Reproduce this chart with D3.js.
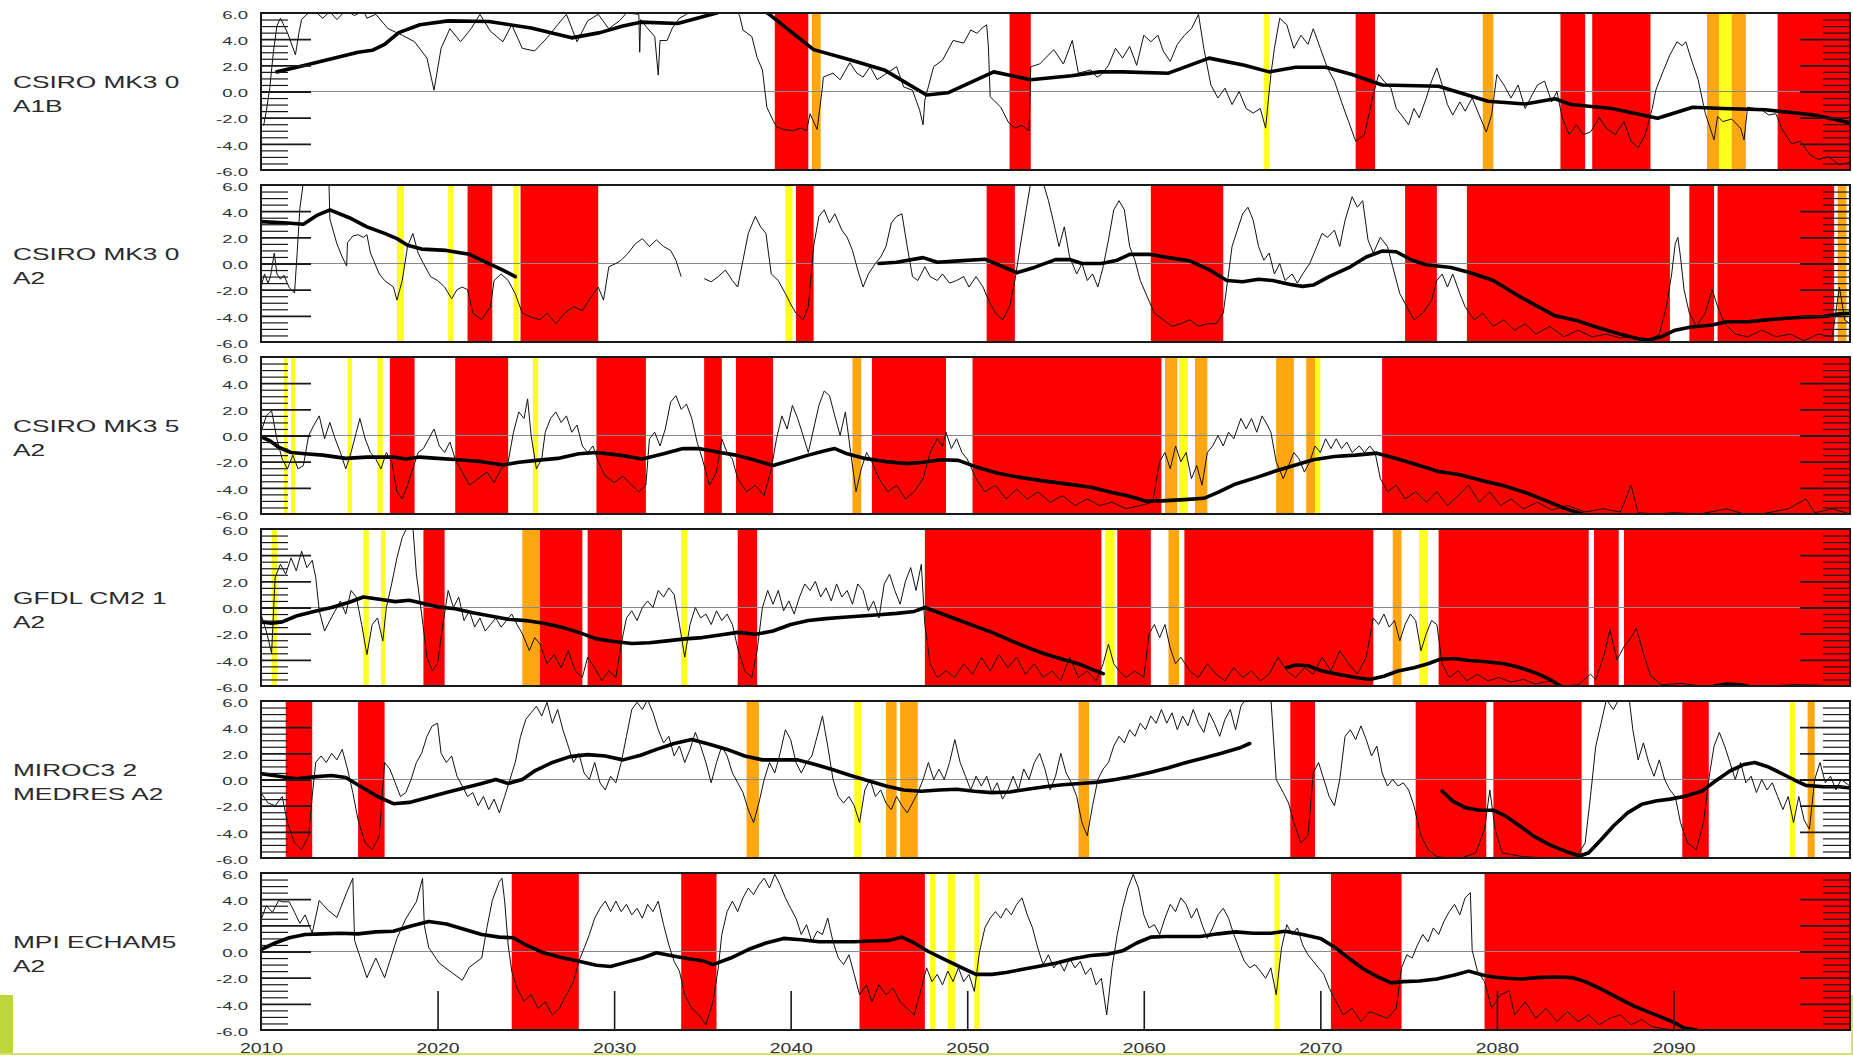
<!DOCTYPE html>
<html><head><meta charset="utf-8">
<script src="https://cdn.jsdelivr.net/npm/d3@7"></script>
<style>html,body{margin:0;padding:0;background:#fff;} svg{display:block;}</style>
</head><body>
<svg id="chart" width="1853" height="1058"></svg>
<script>
// ---------------- DATA ----------------
const modelLabels = [["CSIRO MK3 0","A1B"],["CSIRO MK3 0","A2"],["CSIRO MK3 5","A2"],["GFDL CM2 1","A2"],["MIROC3 2","MEDRES A2"],["MPI ECHAM5","A2"]];
const yTickValues = [6,4,2,0,-2,-4,-6];
const yTickLabels = ["6.0","4.0","2.0","0.0","-2.0","-4.0","-6.0"];
const xTickYears = [2010,2020,2030,2040,2050,2060,2070,2080,2090];
const xTickLabels = ["2010","2020","2030","2040","2050","2060","2070","2080","2090"];
const bandColors = {R:"#ff0000", O:"#ffa612", Y:"#ffff1e"};

// shaded drought episodes: [start, end, class]
const bands1 = [[2039.1,2041.0,"R"],[2041.2,2041.7,"O"],[2052.4,2053.6,"R"],[2066.8,2067.1,"Y"],[2072.0,2073.1,"R"],[2079.2,2079.8,"O"],[2083.6,2085.0,"R"],[2085.4,2088.7,"R"],[2091.9,2092.6,"O"],[2092.6,2093.3,"Y"],[2093.3,2094.1,"O"],[2095.9,2100,"R"]];
const bands2 = [[2017.7,2018.1,"Y"],[2020.6,2020.9,"Y"],[2021.7,2023.1,"R"],[2024.3,2024.6,"Y"],[2024.7,2029.1,"R"],[2039.7,2040.1,"Y"],[2040.3,2041.3,"R"],[2051.1,2052.7,"R"],[2060.4,2064.5,"R"],[2074.8,2076.6,"R"],[2078.3,2089.8,"R"],[2090.9,2092.3,"R"],[2092.5,2099.1,"R"],[2099.3,2099.8,"O"]];
const bands3 = [[2011.3,2011.5,"Y"],[2011.7,2011.95,"Y"],[2014.9,2015.15,"Y"],[2016.6,2016.9,"Y"],[2017.3,2018.7,"R"],[2021.0,2024.0,"R"],[2025.4,2025.7,"Y"],[2029.0,2031.8,"R"],[2035.1,2036.1,"R"],[2036.9,2039.0,"R"],[2043.5,2044.0,"O"],[2044.6,2048.8,"R"],[2050.3,2061.0,"R"],[2061.2,2061.9,"O"],[2062.0,2062.5,"Y"],[2062.9,2063.6,"O"],[2067.5,2068.5,"O"],[2069.2,2069.7,"O"],[2069.7,2070.0,"Y"],[2073.5,2100,"R"]];
const bands4 = [[2010.6,2010.9,"Y"],[2015.8,2016.1,"Y"],[2016.8,2017.05,"Y"],[2019.2,2020.4,"R"],[2024.8,2025.8,"O"],[2025.8,2028.2,"R"],[2028.5,2030.45,"R"],[2033.8,2034.15,"Y"],[2037.0,2038.1,"R"],[2047.6,2057.6,"R"],[2057.8,2058.35,"Y"],[2058.5,2060.4,"R"],[2061.4,2062.0,"O"],[2062.3,2073.0,"R"],[2074.1,2074.6,"O"],[2075.6,2076.1,"Y"],[2076.7,2085.2,"R"],[2085.5,2086.9,"R"],[2087.2,2100,"R"]];
const bands5 = [[2011.4,2012.9,"R"],[2015.5,2017.0,"R"],[2037.5,2038.2,"O"],[2043.6,2044.0,"Y"],[2045.4,2046.0,"O"],[2046.2,2047.2,"O"],[2056.3,2056.9,"O"],[2068.3,2069.7,"R"],[2075.4,2079.4,"R"],[2079.8,2084.8,"R"],[2090.5,2092.0,"R"],[2096.6,2096.9,"Y"],[2097.6,2098.0,"O"]];
const bands6 = [[2024.2,2028.0,"R"],[2033.8,2035.8,"R"],[2043.9,2047.6,"R"],[2047.9,2048.2,"Y"],[2048.9,2049.3,"Y"],[2050.4,2050.7,"Y"],[2067.4,2067.7,"Y"],[2070.6,2074.6,"R"],[2079.3,2100,"R"]];

// thin index series: [year, value]; null = gap
const thin1 = [[2010.15,-2.6],[2010.3,-1.5],[2010.5,0.3],[2010.7,3.0],[2010.9,5.0],[2011.1,5.6],[2011.5,4.5],[2011.95,2.8],[2012.15,4.5],[2012.3,5.5],[2012.6,5.9],[2013.0,6.2],[2013.5,5.6],[2013.9,6.1],[2014.3,5.5],[2014.8,6.2],[2015.3,5.8],[2015.8,6.2],[2016.0,5.6],[2016.5,5.9],[2017.2,4.8],[2018.0,4.3],[2018.7,3.8],[2019.4,2.55],[2019.8,0.1],[2020.2,3.3],[2020.7,4.8],[2021.3,3.8],[2021.9,4.8],[2022.4,5.9],[2023.0,4.6],[2023.7,3.8],[2024.2,5.1],[2024.8,3.3],[2025.5,3.1],[2026.2,4.1],[2026.8,5.1],[2027.3,5.9],[2027.9,3.8],[2028.5,5.4],[2029.1,5.9],[2029.7,4.8],[2030.3,5.4],[2030.7,6.0],[2031.4,5.9],[2031.45,3.0],[2031.5,5.5],[2031.85,4.9],[2032.3,4.2],[2032.5,1.25],[2032.6,3.9],[2033.0,3.9],[2033.3,4.85],[2033.7,5.6],[2034.1,5.9],[2034.5,6.2],[2036.8,6.2],[2037.1,5.85],[2037.3,4.7],[2037.8,4.2],[2038.1,2.6],[2038.4,1.65],[2038.65,-1.2],[2039.0,-2.2],[2039.2,-2.7],[2039.6,-2.9],[2040.1,-3.0],[2040.6,-2.8],[2040.9,-3.0],[2041.1,-1.7],[2041.5,-2.9],[2041.8,0.35],[2041.85,1.1],[2042.4,1.4],[2042.8,0.9],[2043.35,2.2],[2043.75,1.4],[2044.1,1.1],[2044.5,1.9],[2044.9,0.9],[2045.45,1.4],[2046.0,1.9],[2046.4,0.35],[2046.9,0.1],[2047.3,-1.4],[2047.5,-2.55],[2047.6,-0.65],[2048.1,1.9],[2048.6,2.4],[2049.2,3.9],[2049.8,3.7],[2050.2,4.7],[2050.55,4.45],[2050.85,4.85],[2051.1,5.1],[2051.2,3.4],[2051.3,-0.4],[2051.9,-1.2],[2052.35,-2.4],[2052.7,-2.8],[2053.1,-2.6],[2053.5,-3.0],[2053.6,1.9],[2054.1,2.1],[2054.9,3.2],[2055.45,2.1],[2055.95,3.9],[2056.3,1.4],[2057.0,1.65],[2057.35,1.1],[2057.6,1.3],[2058.0,2.0],[2058.4,3.3],[2058.8,2.55],[2059.2,3.45],[2059.6,2.0],[2060.0,4.3],[2060.4,3.8],[2060.8,4.3],[2061.1,3.1],[2061.5,2.3],[2061.9,3.6],[2062.3,4.3],[2062.7,4.8],[2063.1,5.9],[2063.4,3.3],[2063.8,0.5],[2064.2,-0.5],[2064.6,0.25],[2065.0,-1.0],[2065.4,0],[2065.8,-1.3],[2066.2,-1.65],[2066.6,-1.3],[2066.9,-2.8],[2067.2,1.3],[2067.4,3.3],[2067.7,5.6],[2068.1,5.1],[2068.5,3.3],[2068.9,4.3],[2069.3,3.6],[2069.6,4.8],[2070.0,3.3],[2070.4,1.8],[2070.8,0.8],[2071.2,-0.8],[2071.6,-2.3],[2072.0,-3.8],[2072.5,-3.3],[2073.0,-0.25],[2073.3,1.3],[2073.6,0.8],[2074.0,0.25],[2074.3,-1.3],[2074.6,-1.8],[2075.0,-2.55],[2075.3,-1.3],[2075.6,-2.0],[2076.0,-0.5],[2076.3,0.8],[2076.6,1.8],[2076.9,0.5],[2077.2,-1.0],[2077.5,-1.8],[2077.9,-0.8],[2078.2,-1.5],[2078.6,-0.5],[2079.0,-1.8],[2079.4,-3.1],[2079.7,-1.8],[2080.0,1.3],[2080.4,0.5],[2080.8,-0.5],[2081.2,0.5],[2081.6,-1.3],[2082.0,-0.25],[2082.3,0.5],[2082.7,0.8],[2083.1,-0.8],[2083.4,0],[2083.7,-2.0],[2084.1,-3.3],[2084.5,-2.55],[2084.9,-3.3],[2085.3,-3.1],[2085.8,-2.0],[2086.2,-2.8],[2086.7,-3.3],[2087.2,-2.3],[2087.6,-3.8],[2088.0,-4.3],[2088.4,-3.3],[2088.8,-1.3],[2089.0,0.1],[2089.4,1.5],[2089.8,2.8],[2090.2,3.8],[2090.5,3.5],[2090.7,3.8],[2091.0,2.5],[2091.4,0.9],[2091.8,-1.65],[2092.3,-3.7],[2092.5,-1.9],[2092.8,-2.3],[2093.3,-2.1],[2093.8,-2.8],[2094.0,-3.7],[2094.2,-1.2],[2094.6,-1.3],[2095.0,-1.4],[2095.4,-1.8],[2095.8,-1.7],[2096.2,-3.0],[2096.7,-4.0],[2097.2,-3.8],[2097.7,-4.8],[2098.2,-5.2],[2098.8,-5.0],[2099.4,-5.6],[2100,-5.4]];
const thin2 = [[2010.0,-1.8],[2010.2,-0.8],[2010.4,-1.5],[2010.55,-0.9],[2010.75,0.8],[2010.9,-0.8],[2011.1,-1.2],[2011.3,-0.9],[2011.6,-1.85],[2011.9,-2.25],[2012.05,0.85],[2012.2,4.2],[2012.4,6.2],[2013.85,6.2],[2013.9,3.4],[2014.3,1.5],[2014.6,0.5],[2014.85,-0.2],[2014.9,1.6],[2015.2,2.1],[2015.5,2.2],[2015.8,2.0],[2016.0,2.2],[2016.2,0.8],[2016.7,-0.8],[2017.0,-1.3],[2017.5,-1.8],[2017.7,-2.8],[2018.0,-1.3],[2018.3,1.3],[2018.6,2.3],[2018.9,0.8],[2019.2,0],[2019.6,-1.0],[2020.0,-1.3],[2020.4,-1.8],[2020.8,-2.7],[2021.1,-2.0],[2021.4,-1.8],[2021.7,-2.0],[2022.0,-3.8],[2022.5,-4.3],[2023.0,-3.3],[2023.2,-1.3],[2023.6,-0.8],[2024.0,-1.3],[2024.4,-2.3],[2024.8,-3.8],[2025.3,-4.1],[2025.8,-4.3],[2026.2,-3.8],[2026.7,-4.6],[2027.2,-3.8],[2027.7,-3.3],[2028.2,-3.6],[2028.7,-2.55],[2029.1,-1.8],[2029.4,-2.8],[2029.7,-0.25],[2030.1,0],[2030.4,0.25],[2030.8,0.8],[2031.2,1.5],[2031.6,1.9],[2032.0,1.3],[2032.4,1.8],[2032.8,1.3],[2033.2,1.0],[2033.5,0.25],[2033.8,-1.0],null,[2035.1,-1.15],[2035.5,-1.4],[2035.9,-1.0],[2036.3,-0.5],[2036.7,-1.3],[2037.0,-1.8],[2037.3,0.25],[2037.6,2.3],[2038.0,3.6],[2038.3,2.8],[2038.6,2.3],[2038.9,-0.8],[2039.3,-1.3],[2039.7,-2.3],[2040.0,-3.1],[2040.3,-3.8],[2040.7,-4.3],[2041.0,-3.3],[2041.3,1.3],[2041.6,3.6],[2041.9,4.1],[2042.2,3.1],[2042.5,3.8],[2042.9,2.55],[2043.2,2.0],[2043.5,1.0],[2043.8,-0.5],[2044.1,-1.8],[2044.4,-0.8],[2044.8,0],[2045.1,0.5],[2045.4,1.3],[2045.7,3.1],[2046.0,3.6],[2046.3,3.8],[2046.6,1.3],[2046.9,-1.0],[2047.2,-1.3],[2047.6,-0.25],[2047.9,-1.0],[2048.3,-1.3],[2048.6,-0.8],[2049.0,-1.5],[2049.4,-1.3],[2049.8,-1.0],[2050.1,-1.8],[2050.5,-1.0],[2050.9,-1.8],[2051.2,-2.8],[2051.6,-3.8],[2052.0,-4.3],[2052.4,-3.3],[2052.7,-1.3],[2053.0,1.3],[2053.3,3.8],[2053.6,6.2],[2054.3,6.2],[2054.6,4.8],[2054.9,3.1],[2055.2,1.3],[2055.5,2.8],[2055.8,0.5],[2056.2,-0.8],[2056.5,0],[2056.8,-1.3],[2057.1,-0.8],[2057.4,-1.8],[2057.7,-0.25],[2058.0,1.8],[2058.3,4.1],[2058.6,4.8],[2058.9,4.1],[2059.2,1.3],[2059.5,0.25],[2059.8,-1.3],[2060.2,-2.55],[2060.6,-3.8],[2061.1,-4.3],[2061.6,-4.8],[2062.1,-4.6],[2062.6,-4.3],[2063.1,-4.8],[2063.6,-4.6],[2064.1,-4.6],[2064.5,-3.8],[2064.8,-0.8],[2065.0,1.3],[2065.3,2.55],[2065.6,3.8],[2065.9,4.3],[2066.2,3.3],[2066.5,1.3],[2066.8,0.25],[2067.1,0.8],[2067.4,-0.8],[2067.7,0],[2068.0,-1.3],[2068.4,-0.8],[2068.7,-1.5],[2069.0,-0.8],[2069.4,0],[2069.8,1.3],[2070.1,2.3],[2070.4,2.0],[2070.8,2.55],[2071.1,1.3],[2071.4,3.3],[2071.8,5.1],[2072.1,4.3],[2072.4,4.8],[2072.7,1.8],[2073.0,0.8],[2073.4,2.0],[2073.8,1.3],[2074.1,-0.25],[2074.5,-2.3],[2074.9,-3.3],[2075.3,-4.3],[2075.8,-3.8],[2076.3,-2.8],[2076.6,-1.3],[2076.9,-0.8],[2077.2,-1.8],[2077.5,-0.8],[2077.9,-2.3],[2078.2,-3.3],[2078.7,-4.3],[2079.2,-3.8],[2079.8,-4.8],[2080.4,-4.3],[2081.0,-5.1],[2081.6,-4.6],[2082.2,-5.4],[2083.0,-4.8],[2083.8,-5.6],[2084.6,-5.1],[2085.4,-5.6],[2086.2,-5.4],[2087.0,-5.7],[2087.8,-5.6],[2088.6,-5.9],[2089.2,-5.4],[2089.6,-3.3],[2089.9,-0.8],[2090.1,1.5],[2090.25,2.0],[2090.4,0.5],[2090.6,-2.0],[2090.9,-3.8],[2091.3,-4.8],[2091.8,-3.8],[2092.2,-2.0],[2092.5,-3.3],[2092.9,-4.6],[2093.5,-5.4],[2094.2,-5.6],[2095.0,-5.1],[2095.8,-5.6],[2096.6,-5.4],[2097.4,-5.9],[2098.2,-5.4],[2099.0,-5.6],[2099.4,-1.8],[2099.7,-4.3],[2100,-4.6]];
const thin3 = [[2010.0,0.25],[2010.3,1.5],[2010.6,1.9],[2010.9,-0.25],[2011.2,-1.8],[2011.5,-2.55],[2011.8,-1.5],[2012.1,-2.55],[2012.4,-2.3],[2012.7,0],[2013.0,0.8],[2013.3,1.5],[2013.6,-0.25],[2013.9,1.0],[2014.2,-0.25],[2014.5,-1.3],[2014.8,-2.55],[2015.1,-1.3],[2015.4,0.25],[2015.6,1.3],[2015.9,-0.25],[2016.2,-1.3],[2016.5,-1.8],[2016.8,-2.55],[2017.1,-1.3],[2017.4,-2.0],[2017.7,-4.3],[2018.0,-4.85],[2018.3,-3.8],[2018.6,-2.55],[2018.9,-1.3],[2019.2,-1.0],[2019.5,-0.25],[2019.8,0.5],[2020.1,-0.8],[2020.4,-1.3],[2020.7,-0.5],[2021.0,-1.8],[2021.4,-2.8],[2021.8,-3.8],[2022.3,-3.3],[2022.8,-2.8],[2023.2,-3.6],[2023.6,-2.55],[2024.0,-2.0],[2024.3,0.25],[2024.6,1.8],[2024.9,1.3],[2025.1,2.8],[2025.3,0],[2025.6,-2.55],[2025.9,-1.8],[2026.1,0.25],[2026.4,1.3],[2026.7,1.8],[2027.0,1.0],[2027.3,1.5],[2027.6,0.25],[2027.9,0.8],[2028.2,-0.8],[2028.5,-1.3],[2028.8,-0.8],[2029.1,-2.0],[2029.5,-3.1],[2030.0,-3.6],[2030.5,-3.1],[2031.0,-3.8],[2031.4,-4.3],[2031.8,-3.8],[2032.0,-0.25],[2032.3,0.25],[2032.6,-0.8],[2032.9,0.5],[2033.2,2.55],[2033.5,3.05],[2033.8,2.0],[2034.1,2.4],[2034.4,1.3],[2034.7,-0.5],[2035.0,-1.8],[2035.4,-3.8],[2035.8,-2.8],[2036.1,-0.25],[2036.4,-1.3],[2036.7,-1.8],[2037.0,-3.3],[2037.5,-4.3],[2038.0,-3.8],[2038.5,-4.6],[2038.9,-2.55],[2039.2,-0.25],[2039.5,1.5],[2039.8,0.5],[2040.1,2.3],[2040.4,1.3],[2040.7,0],[2041.0,-1.3],[2041.3,0.5],[2041.6,2.3],[2041.9,3.4],[2042.2,3.05],[2042.5,1.5],[2042.8,0],[2043.1,1.8],[2043.4,-1.3],[2043.7,-4.3],[2044.0,-2.55],[2044.3,-1.3],[2044.6,-2.0],[2045.0,-3.3],[2045.5,-4.3],[2046.0,-3.8],[2046.5,-4.85],[2047.0,-4.3],[2047.5,-3.3],[2047.9,-1.3],[2048.3,-0.25],[2048.6,-0.8],[2048.8,0.25],[2049.1,-1.0],[2049.4,-0.25],[2049.7,-1.3],[2050.0,-1.8],[2050.5,-3.3],[2051.0,-4.3],[2051.6,-3.8],[2052.2,-4.85],[2052.8,-4.1],[2053.4,-4.85],[2054.0,-4.3],[2054.7,-5.1],[2055.4,-4.6],[2056.1,-5.35],[2056.8,-4.85],[2057.5,-5.35],[2058.2,-5.1],[2059.0,-5.6],[2059.8,-5.35],[2060.5,-5.1],[2060.9,-2.0],[2061.2,-1.3],[2061.5,-2.55],[2061.8,-0.8],[2062.1,-2.0],[2062.4,-1.3],[2062.7,-3.3],[2063.0,-2.3],[2063.3,-3.8],[2063.6,-1.3],[2063.9,-0.8],[2064.2,0],[2064.5,-0.8],[2064.8,0.25],[2065.1,-0.25],[2065.5,1.3],[2065.8,0.5],[2066.1,1.3],[2066.4,0.25],[2066.7,1.5],[2067.0,0.8],[2067.2,0.25],[2067.5,-2.0],[2067.9,-3.3],[2068.2,-2.3],[2068.5,-1.3],[2068.8,-1.8],[2069.1,-2.8],[2069.4,-2.0],[2069.7,-0.8],[2070.0,-1.3],[2070.3,-0.25],[2070.6,-1.0],[2070.9,-0.25],[2071.2,-1.0],[2071.5,-0.5],[2071.8,-1.3],[2072.2,-0.8],[2072.5,-1.3],[2072.8,-0.8],[2073.1,-1.3],[2073.4,-3.3],[2073.8,-4.3],[2074.3,-3.8],[2074.8,-4.85],[2075.4,-4.3],[2076.0,-5.1],[2076.6,-4.3],[2077.2,-5.35],[2077.8,-4.6],[2078.4,-3.8],[2079.0,-5.1],[2079.6,-4.3],[2080.2,-5.35],[2080.8,-4.85],[2081.5,-5.6],[2082.3,-5.1],[2083.1,-5.7],[2084.0,-5.35],[2085.0,-5.85],[2086.0,-5.6],[2087.0,-5.85],[2087.6,-3.8],[2088.0,-5.9],[2089.0,-6.0],[2090.0,-5.9],[2091.5,-6.0],[2093.0,-5.6],[2094.0,-6.0],[2095.0,-6.0],[2096.5,-5.6],[2097.5,-4.85],[2098.0,-5.9],[2099.0,-5.6],[2100,-6.0]];
const thin4 = [[2010.0,-0.5],[2010.3,-1.8],[2010.6,-3.5],[2010.8,2.3],[2011.1,3.3],[2011.4,2.55],[2011.7,3.8],[2012.0,2.8],[2012.3,4.3],[2012.6,3.05],[2012.9,3.6],[2013.1,2.3],[2013.3,-0.25],[2013.6,-1.8],[2013.9,-1.0],[2014.2,-0.25],[2014.5,0.5],[2014.8,-0.5],[2015.1,1.3],[2015.4,0.8],[2015.7,-1.3],[2016.0,-3.6],[2016.3,-1.3],[2016.6,-0.8],[2016.9,-2.55],[2017.1,0],[2017.4,1.8],[2017.7,3.8],[2018.0,5.35],[2018.3,6.2],[2018.6,6.2],[2018.8,2.55],[2019.1,-0.5],[2019.4,-3.8],[2019.7,-4.85],[2020.0,-4.3],[2020.3,-1.3],[2020.6,1.3],[2020.9,0],[2021.2,0.8],[2021.5,-1.0],[2021.8,-0.25],[2022.1,-1.5],[2022.4,-0.8],[2022.7,-1.8],[2023.0,-1.3],[2023.3,-0.8],[2023.6,-1.5],[2023.9,-1.0],[2024.2,-0.5],[2024.5,-1.3],[2024.8,-2.0],[2025.2,-3.3],[2025.5,-2.3],[2025.8,-2.8],[2026.2,-4.3],[2026.6,-3.6],[2027.0,-4.6],[2027.4,-3.3],[2027.8,-4.85],[2028.2,-5.35],[2028.5,-3.8],[2028.9,-4.6],[2029.3,-5.6],[2029.7,-4.85],[2030.1,-5.35],[2030.4,-2.8],[2030.7,-0.8],[2031.0,-0.25],[2031.3,-1.0],[2031.6,0],[2031.9,0.5],[2032.2,0],[2032.5,1.3],[2032.8,0.8],[2033.1,1.5],[2033.4,1.0],[2033.7,-1.3],[2034.0,-3.8],[2034.3,-1.3],[2034.6,0],[2034.9,-0.8],[2035.2,-0.5],[2035.5,-1.3],[2035.8,-0.25],[2036.1,-1.0],[2036.4,-0.5],[2036.7,-1.3],[2037.0,-3.1],[2037.4,-4.85],[2037.8,-5.35],[2038.1,-3.3],[2038.4,0],[2038.7,1.3],[2039.0,0.25],[2039.3,1.3],[2039.6,-0.25],[2039.9,0.5],[2040.2,-0.5],[2040.5,0.8],[2040.8,1.8],[2041.1,1.3],[2041.4,2.0],[2041.7,0.8],[2042.0,1.5],[2042.3,0.5],[2042.6,1.8],[2042.9,0.8],[2043.2,1.3],[2043.5,0.25],[2043.8,1.8],[2044.1,1.3],[2044.4,-0.25],[2044.7,0.5],[2045.0,-0.8],[2045.3,1.8],[2045.6,2.55],[2045.9,1.3],[2046.2,0.25],[2046.5,2.0],[2046.8,3.05],[2047.1,1.3],[2047.4,3.3],[2047.6,-1.3],[2047.9,-4.3],[2048.3,-5.35],[2048.8,-4.85],[2049.3,-5.35],[2049.8,-4.3],[2050.3,-5.1],[2050.8,-3.8],[2051.3,-4.85],[2051.8,-3.6],[2052.3,-4.6],[2052.8,-3.8],[2053.3,-5.1],[2053.8,-4.3],[2054.3,-5.35],[2054.8,-4.85],[2055.3,-5.6],[2055.8,-3.8],[2056.3,-5.35],[2056.8,-4.85],[2057.3,-5.6],[2057.7,-4.3],[2058.0,-2.8],[2058.3,-4.3],[2058.6,-4.85],[2059.0,-5.35],[2059.5,-4.85],[2060.0,-5.35],[2060.3,-2.0],[2060.6,-1.3],[2060.9,-2.3],[2061.2,-1.3],[2061.5,-3.1],[2061.8,-4.3],[2062.1,-3.8],[2062.6,-4.85],[2063.1,-5.35],[2063.6,-4.3],[2064.1,-5.1],[2064.6,-5.6],[2065.1,-4.6],[2065.6,-5.35],[2066.1,-4.85],[2066.6,-5.6],[2067.1,-5.1],[2067.6,-3.8],[2068.1,-4.85],[2068.6,-5.35],[2069.1,-4.6],[2069.6,-5.1],[2070.1,-3.8],[2070.6,-4.85],[2071.1,-3.3],[2071.6,-4.3],[2072.1,-5.1],[2072.6,-3.8],[2073.0,-0.8],[2073.3,-1.3],[2073.6,-0.5],[2073.9,-1.5],[2074.2,-1.0],[2074.5,-2.55],[2074.8,-1.3],[2075.1,-0.5],[2075.4,-1.0],[2075.7,-3.3],[2076.0,-2.0],[2076.3,-1.0],[2076.6,-1.3],[2076.9,-4.3],[2077.3,-5.35],[2077.8,-4.85],[2078.3,-5.6],[2078.9,-5.1],[2079.5,-5.6],[2080.1,-5.35],[2080.8,-5.7],[2081.5,-5.5],[2082.2,-5.85],[2083.0,-5.6],[2083.8,-6.0],[2084.6,-5.9],[2085.3,-5.1],[2085.6,-5.5],[2086.1,-3.5],[2086.4,-1.7],[2086.8,-4.0],[2087.2,-3.0],[2087.6,-2.3],[2087.9,-1.6],[2088.3,-3.5],[2088.7,-5.2],[2089.3,-5.9],[2090.5,-5.8],[2091.5,-6.0],[2093.0,-5.9],[2095.0,-6.0],[2097.0,-5.9],[2100,-6.0]];
const thin5 = [[2010.0,-1.0],[2010.4,-1.8],[2010.8,-2.0],[2011.2,-1.3],[2011.5,-3.3],[2011.9,-4.85],[2012.3,-5.35],[2012.7,-4.3],[2012.9,-1.3],[2013.1,1.3],[2013.4,1.8],[2013.7,1.3],[2014.0,2.0],[2014.3,1.5],[2014.6,2.3],[2014.9,0.8],[2015.2,-1.0],[2015.5,-3.1],[2015.9,-4.85],[2016.3,-5.35],[2016.7,-4.3],[2017.0,1.3],[2017.3,0.8],[2017.6,-0.25],[2017.9,-1.3],[2018.2,-1.0],[2018.5,0],[2018.8,1.3],[2019.1,2.0],[2019.4,3.3],[2019.7,4.1],[2020.0,4.3],[2020.2,2.0],[2020.5,1.3],[2020.8,1.8],[2021.1,0.25],[2021.4,-0.5],[2021.7,-1.3],[2022.0,-1.0],[2022.3,-2.0],[2022.6,-1.3],[2022.9,-2.3],[2023.2,-1.5],[2023.5,-2.55],[2023.8,-1.3],[2024.1,0],[2024.4,1.3],[2024.7,3.3],[2025.0,4.6],[2025.3,5.1],[2025.6,5.6],[2025.9,4.85],[2026.2,5.9],[2026.5,4.3],[2026.8,5.35],[2027.1,3.8],[2027.4,2.55],[2027.7,1.3],[2028.0,2.0],[2028.3,0.5],[2028.6,0],[2028.9,1.3],[2029.2,-0.25],[2029.5,-0.8],[2029.8,0.25],[2030.1,-0.25],[2030.4,1.3],[2030.7,3.3],[2031.0,5.35],[2031.3,5.9],[2031.6,5.35],[2031.9,6.1],[2032.2,5.1],[2032.5,3.8],[2032.8,2.8],[2033.1,3.3],[2033.4,1.8],[2033.7,2.55],[2034.0,1.3],[2034.3,2.3],[2034.6,3.6],[2034.9,2.55],[2035.2,1.3],[2035.5,-0.25],[2035.8,1.3],[2036.1,2.55],[2036.4,1.8],[2036.7,0.5],[2037.0,-0.25],[2037.3,-1.0],[2037.6,-2.3],[2037.9,-3.3],[2038.2,-1.8],[2038.5,0],[2038.8,1.3],[2039.1,0.5],[2039.4,2.0],[2039.7,3.8],[2040.0,3.05],[2040.3,1.3],[2040.6,0.5],[2040.9,1.3],[2041.2,1.8],[2041.5,3.3],[2041.8,4.85],[2042.1,2.55],[2042.4,0],[2042.7,-1.3],[2043.0,-1.8],[2043.3,-1.3],[2043.6,-2.0],[2043.9,-3.3],[2044.2,-0.8],[2044.5,0],[2044.8,-1.3],[2045.1,-0.8],[2045.4,-1.8],[2045.7,-2.3],[2046.0,-1.3],[2046.3,-2.0],[2046.6,-2.55],[2046.9,-1.8],[2047.2,-1.0],[2047.5,0],[2047.8,1.3],[2048.1,0],[2048.4,0.8],[2048.7,0],[2049.0,1.3],[2049.3,3.05],[2049.6,1.3],[2049.9,0.25],[2050.2,-0.8],[2050.5,0.25],[2050.8,-0.5],[2051.1,0.25],[2051.4,-1.0],[2051.7,-0.25],[2052.0,-1.5],[2052.3,-0.8],[2052.6,0.25],[2052.9,-0.8],[2053.2,0.8],[2053.5,0],[2053.8,1.3],[2054.1,2.0],[2054.4,0.8],[2054.7,-0.8],[2055.0,0.25],[2055.3,2.0],[2055.6,0.5],[2055.9,-0.25],[2056.2,-1.3],[2056.5,-3.3],[2056.8,-4.3],[2057.1,-2.0],[2057.4,0],[2057.7,0.8],[2058.0,1.3],[2058.3,2.55],[2058.6,3.3],[2058.9,2.8],[2059.2,3.8],[2059.5,3.3],[2059.8,4.3],[2060.1,3.8],[2060.4,4.85],[2060.7,4.3],[2061.0,5.35],[2061.3,4.3],[2061.6,5.1],[2061.9,3.8],[2062.2,4.85],[2062.5,4.1],[2062.8,5.35],[2063.1,4.3],[2063.4,3.6],[2063.7,5.1],[2064.0,4.3],[2064.3,3.3],[2064.6,4.6],[2064.9,5.35],[2065.2,3.8],[2065.5,5.6],[2065.8,6.2],[2067.2,6.2],[2067.5,0],[2067.9,-1.0],[2068.2,-1.8],[2068.5,-3.3],[2068.9,-4.85],[2069.3,-4.3],[2069.6,0.5],[2069.9,1.3],[2070.2,0],[2070.5,-1.3],[2070.8,-2.0],[2071.1,0],[2071.4,3.3],[2071.7,3.8],[2072.0,3.05],[2072.3,4.1],[2072.6,3.05],[2072.9,1.8],[2073.2,2.55],[2073.5,0.5],[2073.8,-0.5],[2074.1,0],[2074.4,-0.5],[2074.7,-0.25],[2075.0,-0.8],[2075.3,-2.0],[2075.7,-4.3],[2076.1,-5.35],[2076.6,-5.9],[2077.2,-6.0],[2078.0,-6.0],[2078.8,-5.6],[2079.3,-3.8],[2079.6,-0.8],[2079.9,-3.8],[2080.3,-5.6],[2081.5,-5.9],[2083.0,-6.0],[2084.5,-5.95],[2085.0,-4.85],[2085.3,-1.3],[2085.6,2.55],[2085.9,4.3],[2086.2,6.1],[2086.6,5.35],[2086.9,6.1],[2087.5,6.1],[2087.7,3.8],[2088.0,1.5],[2088.3,2.8],[2088.6,1.3],[2088.9,0.25],[2089.2,1.5],[2089.5,0],[2089.8,-0.8],[2090.1,-1.3],[2090.4,-3.3],[2090.8,-4.85],[2091.3,-5.35],[2091.7,-3.3],[2092.0,0],[2092.3,2.55],[2092.6,3.6],[2092.9,2.55],[2093.2,1.3],[2093.5,0],[2093.8,1.3],[2094.1,-0.25],[2094.4,0.25],[2094.7,-1.0],[2095.0,0],[2095.3,-0.8],[2095.6,-0.25],[2095.9,-1.3],[2096.2,-2.3],[2096.5,-1.3],[2096.8,-3.3],[2097.1,-1.3],[2097.4,-3.1],[2097.7,-3.8],[2098.0,0],[2098.3,1.3],[2098.6,-0.25],[2098.9,0.25],[2099.2,-0.8],[2099.5,0],[2100,-0.5]];
const thin6 = [[2010.0,2.4],[2010.3,3.5],[2010.65,3.0],[2011.0,3.9],[2011.2,3.8],[2011.6,3.8],[2011.9,3.0],[2012.2,2.15],[2012.5,2.8],[2012.9,1.4],[2013.3,3.9],[2013.8,3.15],[2014.3,2.6],[2014.85,4.5],[2015.2,5.6],[2015.3,0.85],[2016.0,-2.0],[2016.5,-0.5],[2017.0,-2.0],[2017.7,1.0],[2018.2,2.5],[2018.8,3.8],[2019.15,5.6],[2019.25,2.0],[2019.5,0.3],[2020.1,-0.9],[2020.7,-1.5],[2021.4,-2.2],[2021.8,-1.2],[2022.5,-0.5],[2022.8,1.85],[2023.1,3.9],[2023.5,5.35],[2023.65,5.6],[2023.8,3.85],[2024.0,0.5],[2024.2,-1.5],[2024.5,-2.8],[2024.9,-3.8],[2025.3,-3.3],[2025.7,-4.35],[2026.1,-3.85],[2026.5,-4.85],[2026.9,-4.35],[2027.3,-3.3],[2027.7,-2.3],[2028.0,-0.75],[2028.3,0.25],[2028.6,1.3],[2028.9,2.55],[2029.2,3.3],[2029.5,3.85],[2029.8,3.05],[2030.1,3.85],[2030.4,3.05],[2030.7,3.6],[2031.0,2.8],[2031.3,3.3],[2031.6,2.55],[2031.9,3.6],[2032.2,3.05],[2032.5,3.85],[2032.8,2.05],[2033.1,0.5],[2033.4,-0.75],[2033.7,-1.5],[2034.0,-3.3],[2034.4,-4.35],[2034.8,-4.85],[2035.2,-5.6],[2035.6,-3.85],[2035.9,-1.25],[2036.1,1.3],[2036.4,3.05],[2036.7,3.85],[2037.0,3.05],[2037.3,4.1],[2037.6,4.85],[2037.9,4.35],[2038.2,5.1],[2038.5,5.6],[2038.8,4.85],[2039.1,5.9],[2039.4,5.1],[2039.7,4.1],[2040.0,3.3],[2040.3,2.55],[2040.6,1.3],[2040.9,2.05],[2041.2,0.75],[2041.5,1.55],[2041.8,1.3],[2042.1,2.55],[2042.4,0.75],[2042.7,-0.5],[2043.0,-1.0],[2043.3,-0.25],[2043.6,-1.75],[2043.9,-3.3],[2044.3,-2.55],[2044.6,-3.85],[2045.0,-2.55],[2045.4,-3.3],[2045.8,-2.8],[2046.2,-3.85],[2046.6,-4.35],[2047.0,-4.85],[2047.4,-2.8],[2047.7,-1.25],[2048.0,-2.3],[2048.3,-1.75],[2048.6,-2.55],[2048.9,-1.5],[2049.2,-2.3],[2049.5,-1.25],[2049.8,-2.3],[2050.1,-1.75],[2050.4,-3.05],[2050.7,0],[2051.0,1.8],[2051.3,2.55],[2051.6,3.05],[2051.9,2.55],[2052.2,3.3],[2052.5,2.8],[2052.8,3.6],[2053.1,4.1],[2053.4,2.8],[2053.7,1.8],[2054.0,0.25],[2054.3,-1.0],[2054.6,-0.25],[2054.9,-1.25],[2055.2,-0.75],[2055.5,-1.5],[2055.8,-0.5],[2056.1,-1.25],[2056.4,-0.75],[2056.7,-1.75],[2057.0,-1.25],[2057.3,-2.55],[2057.6,-2.05],[2057.9,-4.85],[2058.2,-1.25],[2058.5,1.3],[2058.8,3.3],[2059.1,4.85],[2059.4,5.9],[2059.7,4.85],[2060.0,2.8],[2060.3,1.8],[2060.6,2.05],[2060.9,1.3],[2061.2,2.55],[2061.5,3.6],[2061.8,3.05],[2062.1,4.1],[2062.4,3.6],[2062.7,2.55],[2063.0,3.3],[2063.3,2.05],[2063.6,1.0],[2063.9,1.8],[2064.2,2.8],[2064.5,3.3],[2064.8,2.55],[2065.1,1.3],[2065.4,0.25],[2065.7,-0.75],[2066.0,-1.25],[2066.3,-1.0],[2066.6,-1.5],[2066.9,-2.05],[2067.2,-1.25],[2067.5,-3.3],[2067.8,0.25],[2068.1,2.05],[2068.4,1.3],[2068.7,1.8],[2069.0,0.5],[2069.3,-0.25],[2069.6,-0.75],[2069.9,-1.25],[2070.2,-1.75],[2070.5,-2.8],[2070.9,-3.85],[2071.3,-4.85],[2071.8,-4.35],[2072.3,-5.35],[2072.8,-4.6],[2073.3,-4.85],[2073.8,-5.1],[2074.3,-4.35],[2074.6,-1.25],[2074.9,-0.25],[2075.2,-0.5],[2075.5,0.5],[2075.8,1.3],[2076.1,0.75],[2076.4,1.8],[2076.7,1.3],[2077.0,2.3],[2077.3,3.05],[2077.6,3.6],[2077.9,2.8],[2078.2,4.1],[2078.5,4.5],[2078.6,0.1],[2078.9,-1.5],[2079.3,-2.3],[2079.7,-4.35],[2080.2,-3.3],[2080.7,-3.0],[2081.0,-4.85],[2081.6,-3.85],[2082.2,-5.1],[2082.8,-4.35],[2083.4,-5.35],[2084.0,-4.6],[2084.6,-5.35],[2085.2,-4.85],[2085.8,-5.6],[2086.4,-5.1],[2087.0,-4.85],[2087.6,-5.6],[2088.2,-5.2],[2088.8,-5.75],[2089.4,-5.9],[2090.2,-6.0],[2091.0,-5.95],[2093.0,-6.0],[2096.0,-6.0],[2100,-6.0]];

// smoothed (thick) series: [year, value]; null = gap
const smooth1 = [[2010.9,1.5],[2012.5,2.0],[2014.0,2.5],[2015.5,3.0],[2016.3,3.15],[2017.0,3.6],[2017.8,4.5],[2019.0,5.1],[2020.6,5.4],[2022.9,5.35],[2025.3,4.85],[2027.6,4.1],[2029.2,4.5],[2030.5,5.0],[2031.5,5.3],[2033.6,5.2],[2035.8,6.0],[2036.8,6.5],[2037.6,6.5],[2038.7,6.0],[2039.8,4.8],[2041.3,3.2],[2043.4,2.4],[2045.3,1.65],[2047.7,-0.27],[2048.9,-0.1],[2050.2,0.7],[2051.5,1.5],[2053.6,0.9],[2055.9,1.2],[2057.5,1.5],[2058.8,1.5],[2061.4,1.4],[2063.7,2.55],[2065.7,2.0],[2067.1,1.5],[2068.6,1.85],[2070.3,1.85],[2071.8,1.3],[2073.5,0.5],[2076.7,0.4],[2079.5,-0.75],[2081.6,-0.95],[2083.3,-0.55],[2084.2,-1.0],[2086.5,-1.3],[2089.1,-2.05],[2091.1,-1.2],[2092.8,-1.3],[2095.2,-1.4],[2098.0,-1.8],[2100,-2.4]];
const smooth2 = [[2010.0,3.2],[2011.5,3.1],[2012.4,3.0],[2013.2,3.7],[2013.9,4.1],[2015.0,3.5],[2016.0,2.8],[2017.0,2.3],[2017.7,1.9],[2018.3,1.4],[2019.1,1.1],[2020.5,1.0],[2021.8,0.7],[2022.7,0.13],[2023.7,-0.5],[2024.4,-1.0],null,[2045.0,0.0],[2046.0,0.1],[2047.5,0.45],[2048.3,0.1],[2049.5,0.2],[2051.0,0.33],[2052.3,-0.4],[2052.8,-0.7],[2053.8,-0.3],[2055.0,0.3],[2055.8,0.3],[2056.5,0],[2057.6,0],[2058.5,0.25],[2059.2,0.7],[2060.3,0.7],[2061.4,0.45],[2062.6,0.2],[2063.8,-0.55],[2064.7,-1.3],[2065.6,-1.4],[2066.5,-1.2],[2067.3,-1.3],[2068.3,-1.6],[2069.0,-1.75],[2069.6,-1.65],[2070.5,-1.0],[2071.7,-0.25],[2072.6,0.5],[2073.5,0.95],[2074.3,0.9],[2075.2,0.25],[2076.0,-0.1],[2077.4,-0.3],[2078.6,-0.75],[2079.8,-1.3],[2081.0,-2.3],[2082.2,-3.2],[2083.3,-4.0],[2084.5,-4.35],[2085.6,-4.85],[2087.0,-5.4],[2088.0,-5.75],[2088.6,-5.85],[2089.3,-5.6],[2090.1,-5.1],[2091.0,-4.85],[2092.2,-4.7],[2093.0,-4.45],[2094.2,-4.45],[2095.0,-4.35],[2096.2,-4.2],[2097.4,-4.1],[2098.5,-4.05],[2099.4,-3.85],[2100,-3.8]];
const smooth3 = [[2010.0,-0.1],[2010.5,-0.4],[2011.0,-0.9],[2011.7,-1.3],[2012.5,-1.4],[2013.5,-1.5],[2014.8,-1.75],[2016.0,-1.65],[2017.5,-1.65],[2018.2,-1.8],[2019.0,-1.65],[2020.0,-1.75],[2021.2,-1.85],[2022.5,-2.0],[2023.7,-2.25],[2024.6,-2.05],[2025.6,-1.9],[2026.8,-1.75],[2028.0,-1.4],[2029.0,-1.3],[2030.3,-1.5],[2031.6,-1.8],[2032.8,-1.4],[2033.9,-1.0],[2034.8,-1.0],[2036.0,-1.3],[2036.9,-1.5],[2038.0,-1.9],[2039.0,-2.3],[2040.0,-1.9],[2041.0,-1.5],[2042.0,-1.15],[2042.5,-1.0],[2043.2,-1.4],[2044.2,-1.75],[2045.4,-2.0],[2046.6,-2.15],[2047.5,-2.05],[2048.5,-1.85],[2049.5,-1.9],[2050.5,-2.4],[2051.8,-2.9],[2053.0,-3.2],[2054.2,-3.45],[2055.6,-3.7],[2057.0,-3.95],[2058.2,-4.35],[2059.2,-4.65],[2060.1,-5.0],[2061.0,-5.0],[2062.3,-4.9],[2063.4,-4.8],[2064.2,-4.35],[2065.2,-3.7],[2066.4,-3.2],[2067.5,-2.7],[2068.6,-2.25],[2069.6,-1.85],[2070.8,-1.6],[2072.0,-1.5],[2073.2,-1.35],[2074.4,-1.8],[2075.6,-2.3],[2076.7,-2.75],[2077.9,-3.0],[2079.2,-3.45],[2080.4,-3.85],[2081.6,-4.35],[2082.8,-5.0],[2083.8,-5.55],[2084.6,-5.9],[2085.0,-6.1]];
const smooth4 = [[2010.0,-1.1],[2010.6,-1.2],[2011.2,-1.1],[2012.0,-0.65],[2013.0,-0.3],[2014.0,0],[2015.0,0.4],[2015.8,0.8],[2016.6,0.65],[2017.6,0.45],[2018.4,0.55],[2019.2,0.3],[2020.0,0.05],[2021.0,-0.1],[2022.0,-0.4],[2023.0,-0.65],[2024.0,-0.9],[2025.0,-1.0],[2026.0,-1.2],[2027.0,-1.5],[2028.0,-1.9],[2029.0,-2.4],[2030.0,-2.6],[2031.0,-2.75],[2032.0,-2.7],[2033.0,-2.55],[2034.0,-2.4],[2035.0,-2.3],[2036.0,-2.1],[2037.0,-1.9],[2038.0,-2.05],[2039.0,-1.8],[2040.0,-1.3],[2041.0,-1.0],[2042.0,-0.85],[2043.0,-0.75],[2044.0,-0.65],[2045.0,-0.55],[2046.0,-0.45],[2047.0,-0.3],[2047.6,0],[2048.4,-0.4],[2049.4,-0.9],[2050.4,-1.4],[2051.4,-1.9],[2052.4,-2.5],[2053.4,-3.05],[2054.4,-3.55],[2055.4,-3.95],[2056.4,-4.35],[2057.2,-4.8],[2057.7,-5.05],null,[2068.1,-4.6],[2068.6,-4.4],[2069.3,-4.45],[2070.1,-4.85],[2071.0,-5.1],[2072.0,-5.35],[2072.8,-5.5],[2073.6,-5.25],[2074.4,-4.85],[2075.3,-4.6],[2076.1,-4.3],[2076.8,-3.95],[2077.6,-3.9],[2078.4,-4.05],[2079.4,-4.15],[2080.4,-4.3],[2081.2,-4.55],[2082.2,-5.0],[2083.0,-5.5],[2083.6,-6.0],null,[2092.3,-6.0],[2093.0,-5.85],[2093.8,-5.9],[2094.2,-6.0]];
const smooth5 = [[2010.0,0.45],[2011.0,0.25],[2012.0,0.05],[2013.0,0.2],[2014.0,0.3],[2014.8,0.15],[2015.6,-0.5],[2016.6,-1.3],[2017.5,-1.85],[2018.4,-1.75],[2019.4,-1.4],[2020.5,-1.0],[2021.5,-0.65],[2022.5,-0.3],[2023.3,0],[2024.0,-0.3],[2024.8,0],[2025.5,0.65],[2026.5,1.3],[2027.5,1.75],[2028.5,1.9],[2029.5,1.8],[2030.5,1.5],[2031.5,1.85],[2032.4,2.3],[2033.4,2.75],[2034.4,3.05],[2035.4,2.7],[2036.4,2.3],[2037.4,1.8],[2038.4,1.5],[2039.4,1.5],[2040.4,1.5],[2041.4,1.15],[2042.4,0.75],[2043.4,0.3],[2044.4,-0.1],[2045.4,-0.5],[2046.4,-0.8],[2047.4,-0.9],[2048.4,-0.8],[2049.4,-0.75],[2050.4,-0.9],[2051.4,-1.0],[2052.4,-0.95],[2053.4,-0.75],[2054.4,-0.55],[2055.4,-0.4],[2056.4,-0.3],[2057.4,-0.2],[2058.4,0],[2059.4,0.25],[2060.4,0.55],[2061.4,0.9],[2062.4,1.3],[2063.4,1.65],[2064.4,2.0],[2065.4,2.4],[2066.0,2.75],null,[2076.9,-0.9],[2077.5,-1.65],[2078.2,-2.15],[2079.0,-2.35],[2079.8,-2.35],[2080.5,-2.8],[2081.3,-3.55],[2082.1,-4.35],[2083.0,-5.0],[2083.9,-5.5],[2084.7,-5.85],[2085.2,-5.6],[2085.9,-4.6],[2086.6,-3.55],[2087.4,-2.55],[2088.2,-1.9],[2089.0,-1.65],[2089.8,-1.5],[2090.6,-1.3],[2091.6,-0.9],[2092.4,-0.1],[2093.2,0.65],[2094.0,1.15],[2094.6,1.3],[2095.3,1.0],[2096.0,0.55],[2096.8,0],[2097.5,-0.45],[2098.5,-0.55],[2099.4,-0.55],[2100,-0.65]];
const smooth6 = [[2010.0,0.15],[2010.8,0.65],[2011.6,1.05],[2012.5,1.3],[2013.5,1.35],[2014.5,1.4],[2015.5,1.35],[2016.5,1.5],[2017.5,1.55],[2018.5,1.95],[2019.5,2.3],[2020.5,2.1],[2021.5,1.7],[2022.5,1.3],[2023.5,1.1],[2024.3,1.05],[2025.0,0.5],[2026.0,-0.1],[2027.0,-0.45],[2028.0,-0.75],[2029.0,-1.05],[2029.8,-1.15],[2030.6,-0.85],[2031.6,-0.5],[2032.4,-0.1],[2033.2,-0.3],[2034.2,-0.55],[2035.0,-0.7],[2035.6,-1.0],[2036.6,-0.5],[2037.6,0.15],[2038.6,0.65],[2039.6,1.0],[2040.6,0.9],[2041.6,0.75],[2042.6,0.75],[2043.6,0.75],[2044.6,0.8],[2045.6,0.85],[2046.3,1.1],[2047.0,0.65],[2047.8,0],[2048.8,-0.65],[2049.8,-1.3],[2050.5,-1.75],[2051.4,-1.75],[2052.2,-1.6],[2053.0,-1.4],[2054.0,-1.15],[2055.0,-0.9],[2056.0,-0.55],[2057.0,-0.3],[2058.0,-0.2],[2058.8,0.05],[2059.6,0.65],[2060.4,1.1],[2061.2,1.15],[2062.2,1.15],[2063.2,1.15],[2064.2,1.35],[2065.2,1.5],[2066.2,1.4],[2067.2,1.4],[2068.0,1.55],[2069.0,1.3],[2070.0,1.0],[2070.8,0.35],[2071.6,-0.5],[2072.4,-1.3],[2073.2,-1.9],[2074.0,-2.4],[2074.7,-2.3],[2075.6,-2.25],[2076.6,-2.1],[2077.6,-1.8],[2078.4,-1.5],[2079.2,-1.8],[2079.8,-1.95],[2080.6,-2.05],[2081.4,-2.1],[2082.3,-2.0],[2083.2,-1.95],[2084.3,-2.0],[2085.0,-2.3],[2085.8,-2.8],[2086.8,-3.5],[2087.8,-4.2],[2089.1,-4.9],[2090.0,-5.4],[2090.6,-5.85],[2091.3,-6.0]];

// ---------------- DRAWING ----------------
const panels = [
  {bands:bands1, thin:thin1, smooth:smooth1},
  {bands:bands2, thin:thin2, smooth:smooth2},
  {bands:bands3, thin:thin3, smooth:smooth3},
  {bands:bands4, thin:thin4, smooth:smooth4},
  {bands:bands5, thin:thin5, smooth:smooth5},
  {bands:bands6, thin:thin6, smooth:smooth6}
];
const svg = d3.select("#chart");
const FONT = "'Liberation Sans', Arial, Helvetica, sans-serif";
const x = d3.scaleLinear().domain([2010, 2100]).range([261, 1850]);
const PH = 157, STEP = 172, TOP0 = 13;
const minorVals = d3.range(-11, 12).map(k => k * 0.5).filter(v => !(Number.isInteger(v) && v % 2 === 0));

// decorative slide frame bits (bottom)
svg.append("rect").attr("x", 0).attr("y", 995).attr("width", 13).attr("height", 60).attr("fill", "#bcd63c");
svg.append("line").attr("x1", 0).attr("x2", 1853).attr("y1", 1054).attr("y2", 1054).attr("stroke", "#d6e16a").attr("stroke-width", 2);
svg.append("line").attr("x1", 1852).attr("x2", 1852).attr("y1", 995).attr("y2", 1054).attr("stroke", "#d6e16a").attr("stroke-width", 2);

panels.forEach((p, i) => {
  const top = TOP0 + STEP * i;
  const y = d3.scaleLinear().domain([-6, 6]).range([top + PH, top]);
  const g = svg.append("g");
  const cid = "clip" + i;
  svg.append("clipPath").attr("id", cid).append("rect")
    .attr("x", x(2010)).attr("y", top).attr("width", x(2100) - x(2010)).attr("height", PH);
  const inner = g.append("g").attr("clip-path", `url(#${cid})`);

  inner.selectAll("rect.band").data(p.bands).join("rect").attr("class", "band")
    .attr("x", d => x(d[0])).attr("width", d => Math.max(1, x(d[1]) - x(d[0])))
    .attr("y", top).attr("height", PH).attr("fill", d => bandColors[d[2]]);

  inner.append("line").attr("x1", x(2010)).attr("x2", x(2100)).attr("y1", y(0)).attr("y2", y(0))
    .attr("stroke", "#8a8a8a").attr("stroke-width", 1);

  // axes ticks (left & right, major & minor)
  const mk = (axisFn, xpos, vals, size, w) => {
    const a = g.append("g").attr("transform", `translate(${xpos},0)`)
      .call(axisFn(y).tickValues(vals).tickSizeInner(-size).tickSizeOuter(0).tickFormat(""));
    a.select(".domain").remove();
    a.selectAll("line").attr("stroke", "#1a1a1a").attr("stroke-width", w);
    return a;
  };
  mk(d3.axisLeft, x(2010), minorVals, 27, 1.2);
  mk(d3.axisRight, x(2100), minorVals, 27, 1.2);
  mk(d3.axisLeft, x(2010), [4, 2, 0, -2, -4], 50, 1.8);
  mk(d3.axisRight, x(2100), [4, 2, 0, -2, -4], 50, 1.8);

  // y labels
  const lab = g.append("g").attr("transform", `translate(${x(2010)},0)`)
    .call(d3.axisLeft(y).tickValues(yTickValues).tickSize(0).tickPadding(0)
      .tickFormat((d, k) => yTickLabels[k]));
  lab.select(".domain").remove();
  lab.selectAll("text").attr("x", -13 / 1.6).attr("dy", "0.45em")
    .attr("transform", "scale(1.6,1)").attr("font-family", FONT).attr("font-size", 11.6).attr("fill", "#333");

  // series
  const line = d3.line().defined(d => d != null).x(d => x(d[0])).y(d => y(d[1]));
  inner.append("path").attr("d", line(p.thin)).attr("fill", "none")
    .attr("stroke", "#111").attr("stroke-width", 1).attr("stroke-linejoin", "round");
  inner.append("path").attr("d", line(p.smooth)).attr("fill", "none")
    .attr("stroke", "#000").attr("stroke-width", 3.6).attr("stroke-linejoin", "round").attr("stroke-linecap", "round");

  // bottom time ticks (last panel only)
  if (i === panels.length - 1) {
    const ax = g.append("g").attr("transform", `translate(0,${top + PH})`)
      .call(d3.axisBottom(x).tickValues(xTickYears).tickSizeInner(-39).tickSizeOuter(0).tickPadding(12)
        .tickFormat((d, k) => xTickLabels[k]));
    ax.select(".domain").remove();
    ax.selectAll("line").attr("stroke", "#1a1a1a").attr("stroke-width", 1.6)
      .filter(d => d === 2010).remove();
    ax.selectAll("text").attr("transform", "scale(1.25,1)").attr("font-family", FONT)
      .attr("font-size", 15.5).attr("fill", "#333");
  }

  // frame
  g.append("rect").attr("x", x(2010)).attr("y", top).attr("width", x(2100) - x(2010)).attr("height", PH)
    .attr("fill", "none").attr("stroke", "#1a1a1a").attr("stroke-width", 2);

  // model label
  const cy = top + PH / 2;
  modelLabels[i].forEach((t, k) => {
    svg.append("text").attr("transform", `translate(13,${cy - 4 + k * 24}) scale(1.51,1)`)
      .attr("font-family", FONT).attr("font-size", 17.4).attr("fill", "#2a2a2a").text(t);
  });
});
</script>
</body></html>
